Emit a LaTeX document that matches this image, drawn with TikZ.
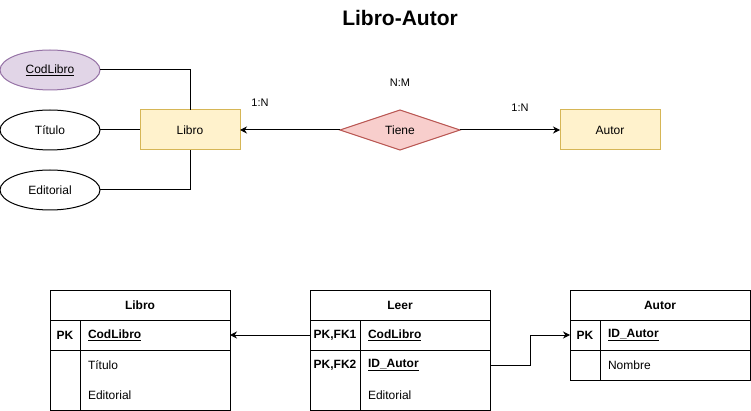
\documentclass[tikz,border=0pt]{standalone}
\usepackage{fontspec}
\setmainfont{Liberation Sans}
\usetikzlibrary{shapes.geometric,arrows.meta}
\definecolor{purfill}{HTML}{E1D5E7}
\definecolor{purdraw}{HTML}{9673A6}
\definecolor{yelfill}{HTML}{FFF2CC}
\definecolor{yeldraw}{HTML}{D6B656}
\definecolor{redfill}{HTML}{F8CECC}
\definecolor{reddraw}{HTML}{B85450}
\tikzset{
  every node/.style={font=\fontsize{12}{14}\selectfont, inner sep=0pt, outer sep=0pt},
  attr/.style={ellipse, draw, line width=1pt, minimum width=100pt, minimum height=40pt},
  ent/.style={rectangle, draw=yeldraw, fill=yelfill, line width=1pt, minimum width=100pt, minimum height=40pt},
  rel/.style={diamond, draw=reddraw, fill=redfill, line width=1pt, minimum width=120pt, minimum height=40pt, aspect=3},
  card/.style={font=\fontsize{11}{13}\selectfont},
  conn/.style={line width=1pt},
  arr/.style={line width=1pt, -{Stealth[length=7pt,width=7pt]}},
  cell/.style={rectangle, draw, line width=1pt},
  hdr/.style={font=\fontsize{12}{14}\selectfont\bfseries},
  keytxt/.style={font=\fontsize{12}{14}\selectfont\bfseries},
  fld/.style={anchor=west},
}
\begin{document}
\begin{tikzpicture}[x=1pt,y=-1pt]
\useasboundingbox (0,0) rectangle (751,411);
% title
\node[font=\fontsize{21}{24}\selectfont\bfseries] (title) at (400,18) {Libro-Autor};
% ER part
\node[attr, fill=purfill, draw=purdraw] (cod) at (50,70) {\underline{CodLibro}};
\node[attr] (tit) at (50,130) {Título};
\node[attr] (edi) at (50,190) {Editorial};
\node[ent] (libro) at (190,130) {Libro};
\node[rel] (tiene) at (400,130) {Tiene};
\node[ent] (autor) at (610,130) {Autor};
\draw[conn] (cod.east) -| (libro.north);
\draw[conn] (tit.east) -- (libro.west);
\draw[conn] (edi.east) -| (libro.south);
\draw[arr] (tiene.west) -- (libro.east);
\draw[arr] (tiene.east) -- (autor.west);
\node[card] (c1) at (260,103) {1:N};
\node[card] (c2) at (400,83) {N:M};
\node[card] (c3) at (520,108) {1:N};
% Table Libro
\node[cell, minimum width=180pt, minimum height=30pt, hdr] (hLibro) at (140,305) {Libro};
\node[cell, minimum width=30pt, minimum height=30pt, keytxt] (kLibro) at (65,335) {PK};
\node[cell, minimum width=150pt, minimum height=30pt] (fLibro) at (155,335) {};
\node[cell, minimum width=30pt, minimum height=60pt] (kLibroB) at (65,380) {};
\node[cell, minimum width=150pt, minimum height=60pt] (fLibroB) at (155,380) {};
\node[fld, keytxt] (tl1) at (88,335) {\underline{CodLibro}};
\node[fld] (tl2) at (88,365) {Título};
\node[fld] (tl3) at (88,395) {Editorial};
% Table Leer
\node[cell, minimum width=180pt, minimum height=30pt, hdr] (hLeer) at (400,305) {Leer};
\node[cell, minimum width=50pt, minimum height=30pt, keytxt] (kLeer1) at (335,335) {PK,FK1};
\node[cell, minimum width=130pt, minimum height=30pt] (fLeer1) at (425,335) {};
\node[cell, minimum width=50pt, minimum height=60pt] (kLeerB) at (335,380) {};
\node[cell, minimum width=130pt, minimum height=60pt] (fLeerB) at (425,380) {};
\node[keytxt] (kLeer2) at (335,365) {PK,FK2};
\node[fld, keytxt] (te1) at (368,335) {\underline{CodLibro}};
\node[fld, keytxt] (te2) at (368,365) {\underline{ID\_Autor}};
\node[fld] (te3) at (368,395) {Editorial};
\coordinate (leer2) at (490,365);
% Table Autor
\node[cell, minimum width=180pt, minimum height=30pt, hdr] (hAutor) at (660,305) {Autor};
\node[cell, minimum width=30pt, minimum height=30pt, keytxt] (kAutor) at (585,335) {PK};
\node[cell, minimum width=150pt, minimum height=30pt] (fAutor) at (675,335) {};
\node[cell, minimum width=30pt, minimum height=30pt] (kAutorB) at (585,365) {};
\node[cell, minimum width=150pt, minimum height=30pt] (fAutorB) at (675,365) {};
\node[fld, keytxt] (ta1) at (608,335) {\underline{ID\_Autor}};
\node[fld] (ta2) at (608,365) {Nombre};
% connectors
\draw[arr] (kLeer1.west) -- (fLibro.east);
\draw[arr] (leer2) -- (530,365) |- (kAutor.west);
\end{tikzpicture}
\end{document}
